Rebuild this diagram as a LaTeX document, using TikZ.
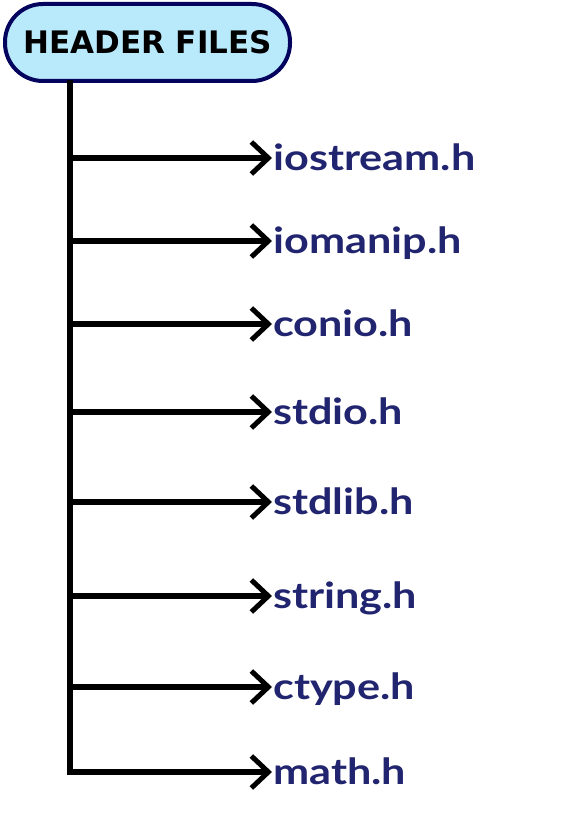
\documentclass[tikz,border=0pt]{standalone}
\usepackage{fontspec}
\newfontfamily\hdrfont{DejaVu Sans}
\newfontfamily\lblfont[FakeStretch=1.2]{Lato}
\usetikzlibrary{arrows.meta}
\definecolor{hdrfill}{HTML}{B9EAFB}
\definecolor{hdrline}{HTML}{04045F}
\definecolor{lblcol}{HTML}{21246E}

\begin{document}
\begin{tikzpicture}[x=1pt, y=-1pt,
    hdrbox/.style={draw=hdrline, fill=hdrfill, line width=4pt, rounded corners=38pt,
      minimum width=285pt, minimum height=77pt, font=\hdrfont\bfseries\fontsize{31}{33}\selectfont},
    lbl/.style={anchor=west, inner xsep=1pt, inner ysep=0pt, text height=25pt, text depth=0pt,
      text=lblcol, font=\lblfont\bfseries\fontsize{36}{38}\selectfont},
    branch/.style={line width=5.5pt, -{Straight Barb[length=17pt, width=32pt, line width=5pt]}}]
  \useasboundingbox (0,0) rectangle (562,834);
  \node[hdrbox] (hdr) at (147.5,42.5) {HEADER FILES};
  \foreach \y/\name [count=\i] in {158/iostream.h, 241/iomanip.h, 324/conio.h, 412/stdio.h,
      502/stdlib.h, 596/string.h, 687/ctype.h, 772/math.h} {
    \coordinate (t\i) at (70,\y);
    \node[lbl] (f\i) at (272,\y) {\name};
    \draw[branch] (t\i) -- (f\i.west);
  }
  \draw[line width=5.5pt, line cap=rect] (hdr.south -| t1) -- (t8);
\end{tikzpicture}
\end{document}
